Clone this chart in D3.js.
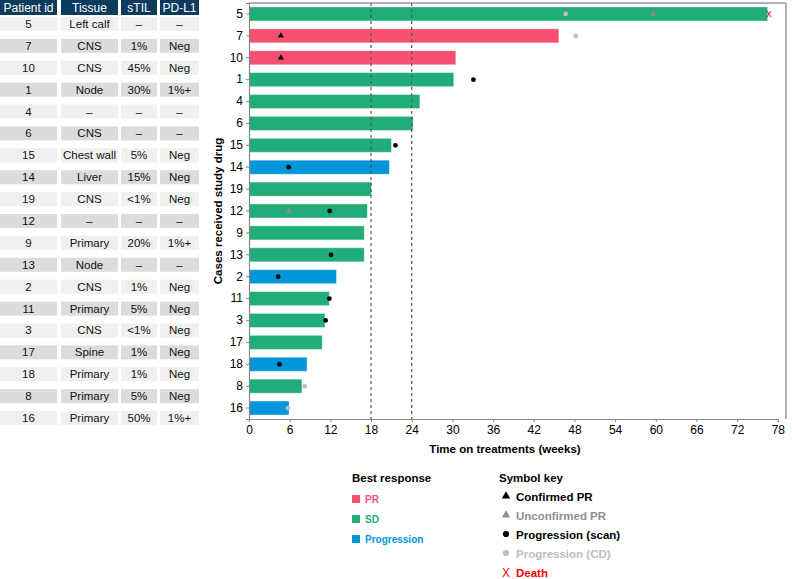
<!DOCTYPE html>
<html><head><meta charset="utf-8">
<script src="https://cdn.jsdelivr.net/npm/d3@7"></script>
<style>
body{margin:0;background:#fff;}
svg{font-family:"Liberation Sans",Arial,Helvetica,sans-serif;}
</style></head>
<body><svg id="c" width="792" height="579"></svg>
<script>
const ids = ["5","7","10","1","4","6","15","14","19","12","9","13","2","11","3","17","18","8","16"];
const tissue = ["Left calf","CNS","CNS","Node","–","CNS","Chest wall","Liver","CNS","–","Primary","Node","CNS","Primary","CNS","Spine","Primary","Primary","Primary"];
const stil = ["–","1%","45%","30%","–","–","5%","15%","<1%","–","20%","–","1%","5%","<1%","1%","1%","5%","50%"];
const pdl1 = ["–","Neg","Neg","1%+","–","–","Neg","Neg","Neg","–","1%+","–","Neg","Neg","Neg","Neg","Neg","Neg","1%+"];
const weeks = [76.5,45.7,30.5,30.2,25.2,24.2,21.0,20.7,18.05,17.45,17.0,17.0,12.9,11.85,11.2,10.8,8.55,7.8,5.9];
const response = ["SD","PR","PR","SD","SD","SD","SD","Progression","SD","SD","SD","SD","Progression","SD","SD","SD","Progression","SD","Progression"];
const xTicks = [0,6,12,18,24,30,36,42,48,54,60,66,72,78];
const refLines = [18,24];
const tableHeaders = ["Patient id","Tissue","sTIL","PD-L1"];
const confirmedPR = [["7",4.7],["10",4.7]];
const unconfirmedPR = [["5",59.6],["12",5.85]];
const progScan = [["1",33.1],["15",21.6],["14",5.85],["12",11.9],["13",12.1],["2",4.3],["11",11.85],["3",11.3],["18",4.5]];
const progCD = [["5",46.7],["7",48.2],["8",8.2],["16",5.75]];
const death = [["5",76.7]];
const respCats = ["PR","SD","Progression"];
const respColors = ["#f5506f","#21ad77","#0395da"];
const symbolLabels = ["Confirmed PR","Unconfirmed PR","Progression (scan)","Progression (CD)","Death"];

const svg = d3.select("#c");
const color = d3.scaleOrdinal().domain(respCats).range(respColors);
const x = d3.scaleLinear().domain([0,78]).range([249, 249+78*6.78]);
const y = d3.scaleBand().domain(ids).range([3,419]).paddingInner(0.36).paddingOuter(0.18);
const yc = id => y(id) + y.bandwidth()/2;

// ---- table ----
const tcols = [[0,57],[61,118],[121,157],[160,199]];
const ty = d3.scaleBand().domain(ids).range([13,429]).paddingInner(0.36).paddingOuter(0.18);
const hdr = svg.append("g");
tableHeaders.forEach((h,i)=>{
  hdr.append("rect").attr("x",tcols[i][0]).attr("y",0).attr("width",tcols[i][1]-tcols[i][0]).attr("height",15).attr("fill","#0d3b5e");
  hdr.append("text").attr("x",(tcols[i][0]+tcols[i][1])/2).attr("y",11.5).attr("text-anchor","middle")
    .attr("fill","#fff").attr("font-size",12).text(h);
});
const cols = [ids,tissue,stil,pdl1];
ids.forEach((id,r)=>{
  const fill = r%2===0 ? "#f0f0f0" : "#dcdcdc";
  cols.forEach((col,i)=>{
    svg.append("rect").attr("x",tcols[i][0]).attr("y",ty(id)).attr("width",tcols[i][1]-tcols[i][0]).attr("height",ty.bandwidth()).attr("fill",fill);
    svg.append("text").attr("x",(tcols[i][0]+tcols[i][1])/2).attr("y",ty(id)+ty.bandwidth()/2+4)
      .attr("text-anchor","middle").attr("font-size",11.5).attr("fill","#111").text(col[r]);
  });
});

// ---- plot ----
svg.append("line").attr("x1",249).attr("x2",786).attr("y1",3).attr("y2",3).attr("stroke","#999").attr("stroke-width",1.5);
svg.append("line").attr("x1",786).attr("x2",786).attr("y1",3).attr("y2",419).attr("stroke","#999").attr("stroke-width",1.5);

svg.append("g").selectAll("rect").data(ids).join("rect")
  .attr("x",x(0)).attr("y",d=>y(d)).attr("width",(d,i)=>x(weeks[i])-x(0)).attr("height",y.bandwidth())
  .attr("fill",(d,i)=>color(response[i])).attr("stroke","#fff").attr("stroke-opacity",0.35).attr("stroke-width",1);

svg.append("g").selectAll("line").data(refLines).join("line")
  .attr("x1",d=>x(d)).attr("x2",d=>x(d)).attr("y1",3).attr("y2",419)
  .attr("stroke","#555").attr("stroke-width",1.2).attr("stroke-dasharray","3,3");

const xa = svg.append("g").attr("transform","translate(0,419)")
  .call(d3.axisBottom(x).tickValues(xTicks).tickSize(3).tickPadding(3));
xa.select(".domain").attr("stroke","#888").attr("stroke-width",1.2);
xa.selectAll(".tick line").attr("stroke","#888");
xa.selectAll("text").attr("font-size",12).attr("fill","#000").attr("font-family","Liberation Sans, Arial, sans-serif");
const ya = svg.append("g").attr("transform","translate(249,0)")
  .call(d3.axisLeft(y).tickSize(3).tickPadding(3));
ya.select(".domain").attr("stroke","#888").attr("stroke-width",1.2);
ya.selectAll(".tick line").attr("stroke","#888");
ya.selectAll("text").attr("font-size",12).attr("fill","#000").attr("font-family","Liberation Sans, Arial, sans-serif");

svg.append("text").attr("x",505).attr("y",453).attr("text-anchor","middle").attr("font-size",11.5).attr("font-weight","bold").text("Time on treatments (weeks)");
svg.append("text").attr("transform","translate(222,211) rotate(-90)").attr("text-anchor","middle").attr("font-size",11.5).attr("font-weight","bold").text("Cases received study drug");

const tri = d3.symbol().type(d3.symbolTriangle).size(16);
const circ = d3.symbol().type(d3.symbolCircle).size(18);
svg.append("g").selectAll("path").data(confirmedPR).join("path")
  .attr("d",tri).attr("transform",d=>`translate(${x(d[1])},${yc(d[0])})`).attr("fill","#000");
svg.append("g").selectAll("path").data(unconfirmedPR).join("path")
  .attr("d",tri).attr("transform",d=>`translate(${x(d[1])},${yc(d[0])})`).attr("fill","#8a8a8a");
svg.append("g").selectAll("path").data(progScan).join("path")
  .attr("d",circ).attr("transform",d=>`translate(${x(d[1])},${yc(d[0])})`).attr("fill","#000");
svg.append("g").selectAll("path").data(progCD).join("path")
  .attr("d",circ).attr("transform",d=>`translate(${x(d[1])},${yc(d[0])})`).attr("fill","#bdbdbd");
svg.append("g").selectAll("text").data(death).join("text")
  .attr("x",d=>x(d[1])).attr("y",d=>yc(d[0])+3.5).attr("text-anchor","middle").attr("font-size",10)
  .attr("fill","#f00").text("x");

// ---- legends ----
svg.append("text").attr("x",352).attr("y",482).attr("font-size",11.5).attr("font-weight","bold").text("Best response");
respCats.forEach((c,i)=>{
  const yy = 499 + i*20;
  svg.append("rect").attr("x",352).attr("y",yy-4).attr("width",8).attr("height",8).attr("fill",respColors[i]);
  svg.append("text").attr("x",365).attr("y",yy+4).attr("font-size",10).attr("font-weight","bold").attr("fill",respColors[i]).text(c);
});
svg.append("text").attr("x",499).attr("y",482).attr("font-size",11.5).attr("font-weight","bold").text("Symbol key");
const symColors = ["#000","#8f8f8f","#000","#bdbdbd","#f00"];
symbolLabels.forEach((lab,i)=>{
  const yy = 496 + i*19;
  const sx = 506;
  if(i<2) svg.append("path").attr("d",d3.symbol().type(d3.symbolTriangle).size(30)).attr("transform",`translate(${sx},${yy})`).attr("fill",symColors[i]);
  else if(i<4) svg.append("path").attr("d",d3.symbol().type(d3.symbolCircle).size(30)).attr("transform",`translate(${sx},${yy})`).attr("fill",symColors[i]);
  else svg.append("text").attr("x",sx).attr("y",yy+4.5).attr("text-anchor","middle").attr("font-size",12).attr("fill","#f00").text("X");
  svg.append("text").attr("x",516).attr("y",yy+4.5).attr("font-size",11.5).attr("font-weight","bold").attr("fill",symColors[i]).text(lab);
});
</script></body></html>
